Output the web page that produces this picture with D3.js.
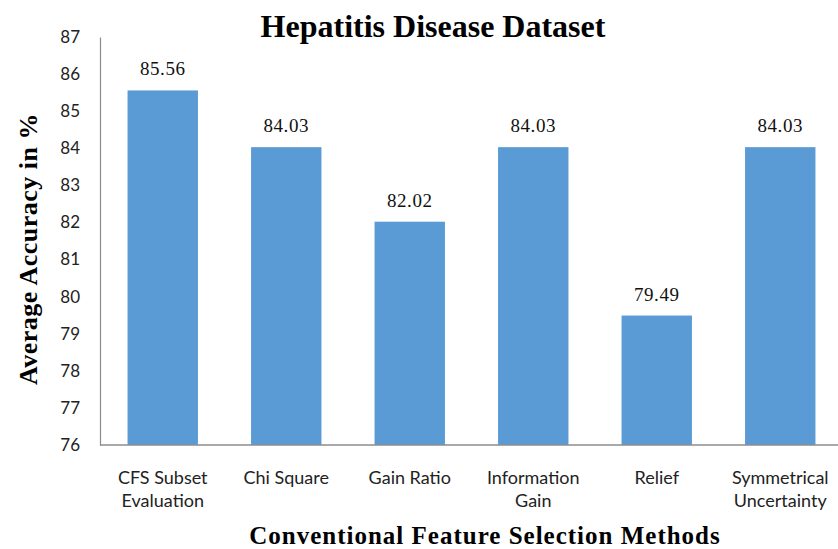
<!DOCTYPE html>
<html>
<head>
<meta charset="utf-8">
<script src="https://cdn.jsdelivr.net/npm/d3@7"></script>
<style>
  html, body { margin: 0; padding: 0; background: #fff; }
  svg { display: block; }
</style>
</head>
<body>
<svg id="chart" width="838" height="549"></svg>
<script>
// Accuracy of each conventional feature selection method
const methods = [
  ["CFS Subset", "Evaluation"],
  ["Chi Square"],
  ["Gain Ratio"],
  ["Information", "Gain"],
  ["Relief"],
  ["Symmetrical", "Uncertainty"]
];
const accuracy = [85.56, 84.03, 82.02, 84.03, 79.49, 84.03];
const yTicks = [76, 77, 78, 79, 80, 81, 82, 83, 84, 85, 86, 87];

const svg = d3.select("#chart");
const plot = { left: 101, right: 842, top: 37, bottom: 445 };

const x = d3.scaleBand()
  .domain(d3.range(methods.length))
  .range([plot.left, plot.right])
  .paddingInner(0.43)
  .paddingOuter(0.215);

const y = d3.scaleLinear()
  .domain([76, 87])
  .range([plot.bottom, plot.top]);

// Bars
svg.append("g")
  .selectAll("rect")
  .data(accuracy)
  .join("rect")
  .attr("x", (d, i) => x(i))
  .attr("y", d => y(d))
  .attr("width", x.bandwidth())
  .attr("height", d => y(76) - y(d))
  .attr("fill", "#5B9BD5");

// Value labels
svg.append("g")
  .selectAll("text")
  .data(accuracy)
  .join("text")
  .attr("x", (d, i) => x(i) + x.bandwidth() / 2)
  .attr("y", d => y(d) - 15)
  .attr("text-anchor", "middle")
  .attr("font-family", "'Liberation Serif', 'Times New Roman', serif")
  .attr("font-size", 19)
  .attr("letter-spacing", 0.6)
  .attr("fill", "#111")
  .text(d => d.toFixed(2));

// Y axis
const yAxis = svg.append("g")
  .attr("transform", `translate(${plot.left - 1},0)`)
  .call(d3.axisLeft(y).tickValues(yTicks).tickSize(0).tickPadding(20).tickFormat(d3.format("d")));
yAxis.select(".domain").attr("stroke", "#8c8c8c").attr("stroke-width", 1.2);
yAxis.selectAll("text")
  .attr("font-family", "Lato, 'Open Sans', sans-serif")
  .attr("font-size", 17)
  .attr("fill", "#222");

// X axis line
svg.append("line")
  .attr("x1", plot.left - 1).attr("x2", 838)
  .attr("y1", plot.bottom).attr("y2", plot.bottom)
  .attr("stroke", "#8c8c8c").attr("stroke-width", 1.5);

// Category labels
const cat = svg.append("g")
  .selectAll("text")
  .data(methods)
  .join("text")
  .attr("x", (d, i) => x(i) + x.bandwidth() / 2)
  .attr("y", 484)
  .attr("text-anchor", "middle")
  .attr("font-family", "Lato, 'Open Sans', sans-serif")
  .attr("font-size", 18)
  .attr("fill", "#222");
cat.each(function(lines) {
  const t = d3.select(this);
  const cx = t.attr("x");
  lines.forEach((line, k) => {
    t.append("tspan").attr("x", cx).attr("dy", k === 0 ? 0 : 23).text(line);
  });
});

// Title
svg.append("text")
  .attr("x", 433).attr("y", 37)
  .attr("text-anchor", "middle")
  .attr("font-family", "'Liberation Serif', 'Times New Roman', serif")
  .attr("font-weight", "bold")
  .attr("font-size", 32)
  .attr("fill", "#000")
  .text("Hepatitis Disease Dataset");

// Axis titles
svg.append("text")
  .attr("transform", "translate(37,249) rotate(-90)")
  .attr("text-anchor", "middle")
  .attr("font-family", "'Liberation Serif', 'Times New Roman', serif")
  .attr("font-weight", "bold")
  .attr("font-size", 26)
  .attr("letter-spacing", 0.5)
  .attr("fill", "#000")
  .text("Average Accuracy in %");

svg.append("text")
  .attr("x", 485).attr("y", 544)
  .attr("text-anchor", "middle")
  .attr("font-family", "'Liberation Serif', 'Times New Roman', serif")
  .attr("font-weight", "bold")
  .attr("font-size", 25)
  .attr("letter-spacing", 1)
  .attr("fill", "#000")
  .text("Conventional Feature Selection Methods");
</script>
</body>
</html>
